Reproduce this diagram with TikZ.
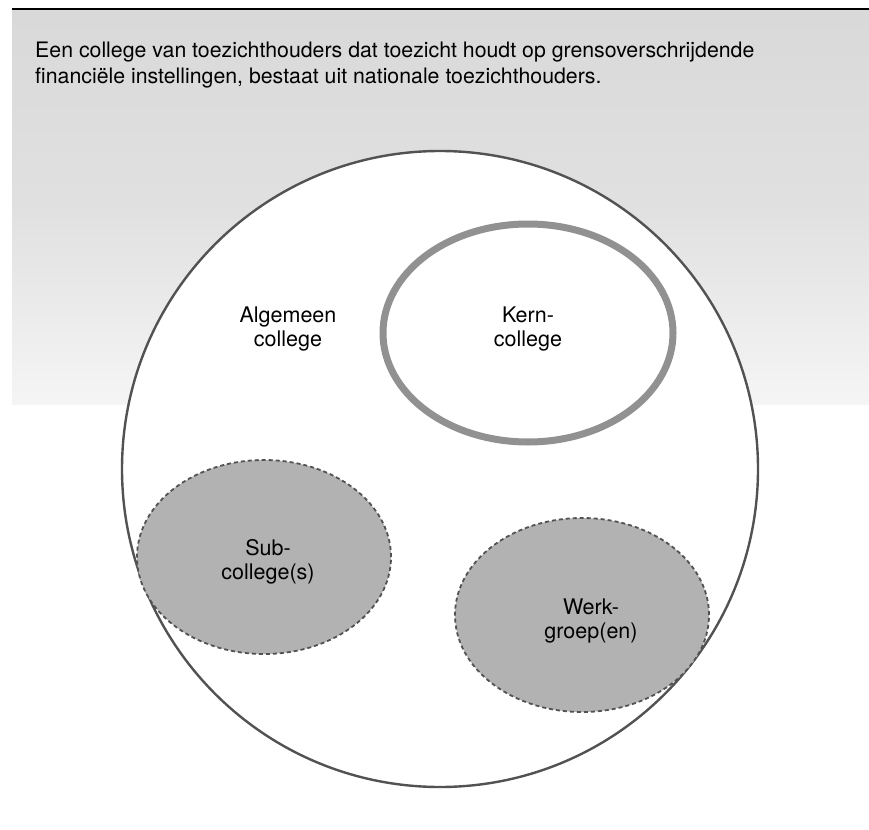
\documentclass[tikz,border=0pt]{standalone}
\usepackage{fontspec}
\setmainfont{TeX Gyre Heros}
\usetikzlibrary{shapes.geometric}
\begin{document}
\begin{tikzpicture}[x=1pt,y=-1pt,
  lbl/.style={align=center,font=\fontsize{21.5}{24.5}\selectfont,inner sep=0pt},
  bigcirc/.style={circle,draw=black!68,line width=2.4pt,fill=white,minimum size=636pt,inner sep=0pt},
  kern/.style={ellipse,draw=black!43,line width=7pt,fill=white,minimum width=290pt,minimum height=218pt,inner sep=0pt},
  sub/.style={ellipse,draw=black!68,line width=1.8pt,dash pattern=on 4pt off 3pt,fill=black!30,minimum width=254pt,minimum height=194pt,inner sep=0pt}]
\useasboundingbox (0,0) rectangle (869,829);
\shade[top color=black!15,bottom color=black!4,middle color=black!12] (12,10) rectangle (869,404);
\coordinate (la) at (12,9);
\coordinate (lb) at (869,9);
\draw[line width=1.8pt,black] (la) -- (lb);
\node[lbl,anchor=north west,align=left,font=\fontsize{21.3}{25.5}\selectfont] (title) at (35,42) {Een college van toezichthouders dat toezicht houdt op grensoverschrijdende\\financiële instellingen, bestaat uit nationale toezichthouders.};
\node[bigcirc] (alg) at (440,469) {};
\node[lbl] (algt) at (288,329) {Algemeen\\college};
\node[kern] (kern) at (528,333) {};
\node[lbl] (kernt) at (528,329) {Kern-\\college};
\node[sub] (sub) at (264,557) {};
\node[lbl] (subt) at (268,562) {Sub-\\college(s)};
\node[sub] (werk) at (582,615) {};
\node[lbl] (werkt) at (591,621) {Werk-\\groep(en)};
\end{tikzpicture}
\end{document}
